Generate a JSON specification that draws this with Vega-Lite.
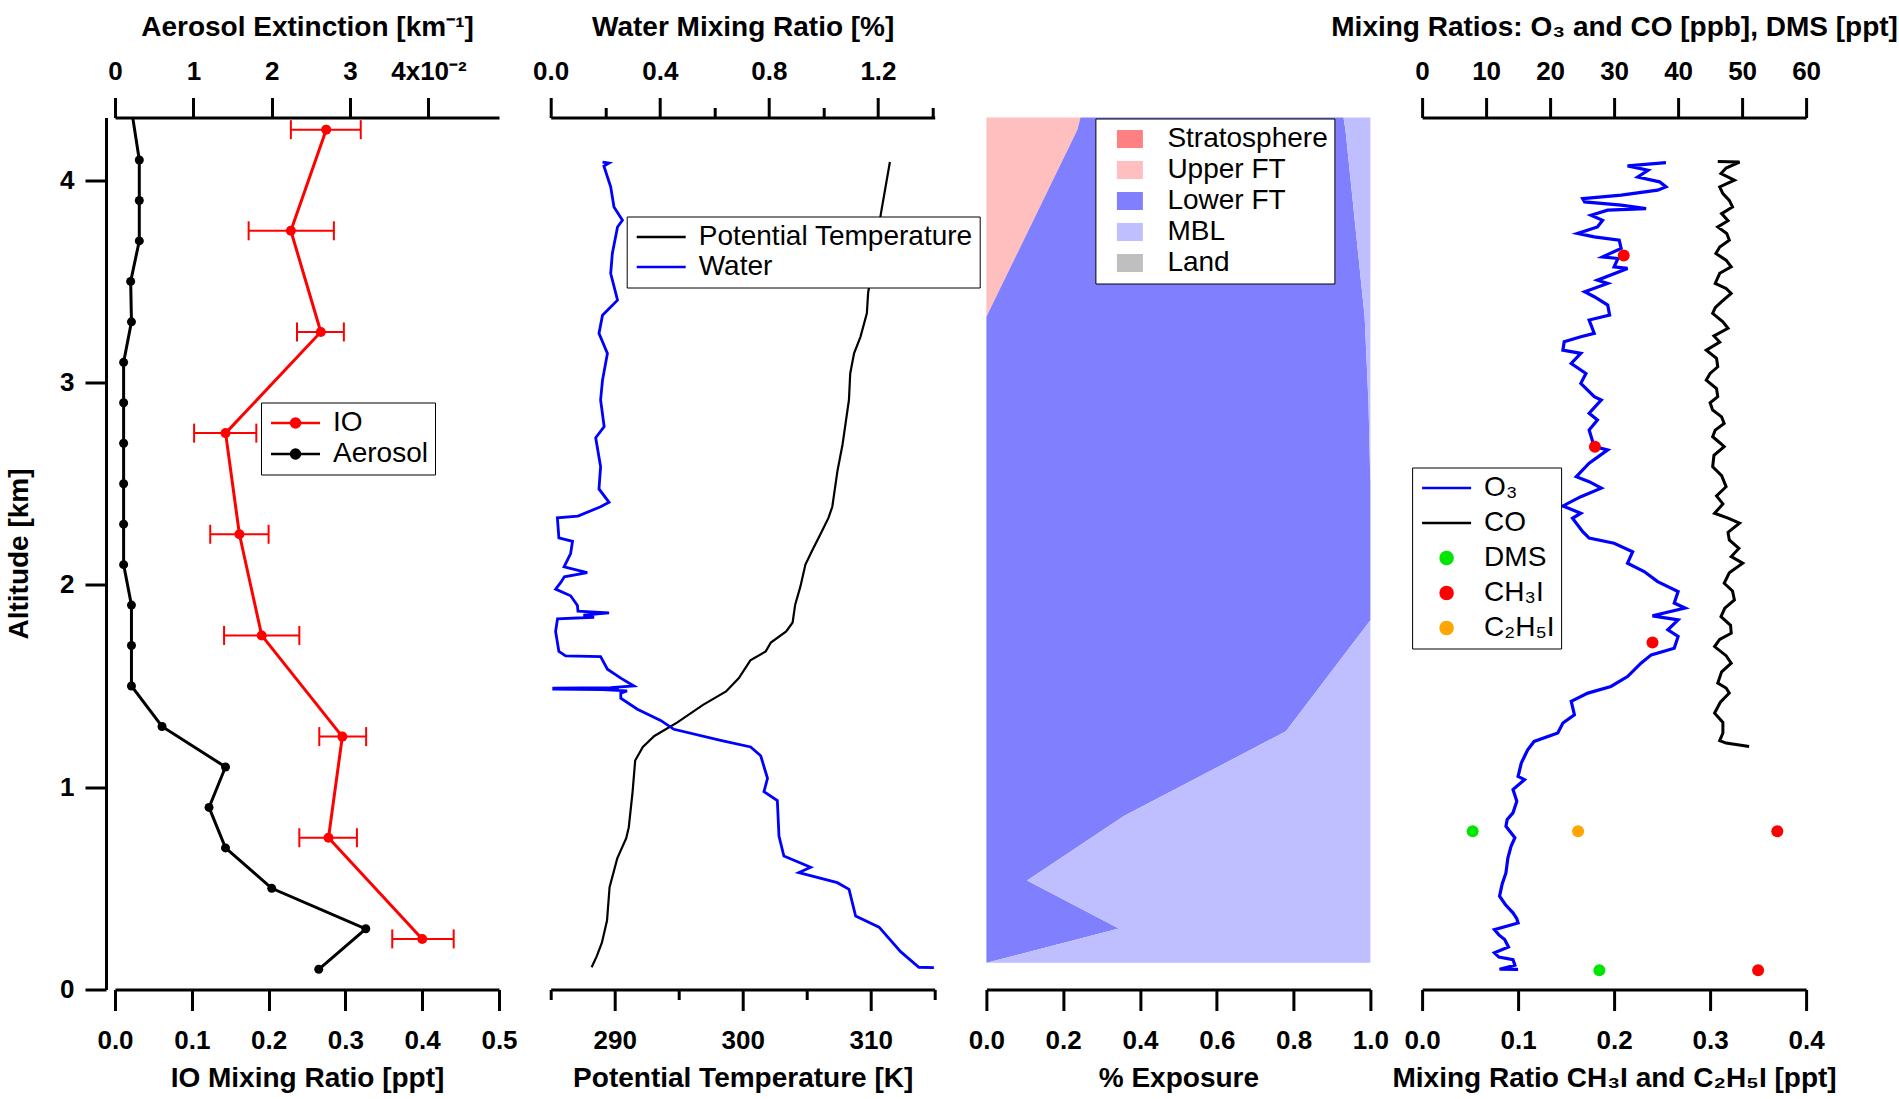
{
"$schema": "https://vega.github.io/schema/vega-lite/v6.json",
"background": "white",
"padding": {"left": 5, "top": 13.5, "right": 5, "bottom": 5},
"bounds": "flush",
"spacing": 51.7,
"resolve": {"scale": {"color": "independent"}, "legend": {"color": "independent"}},
"datasets": {
"aer": [{"a":0.1,"v":0.026},{"a":0.3,"v":0.032},{"a":0.5,"v":0.02},{"a":0.7,"v":0.0141},{"a":0.9,"v":0.012},{"a":1.1,"v":0.0141},{"a":1.3,"v":0.006},{"a":1.5,"v":0.0021},{"a":1.7,"v":0.0021},{"a":1.9,"v":0.0021},{"a":2.1,"v":0.0011},{"a":2.3,"v":0.0011},{"a":2.5,"v":0.0011},{"a":2.7,"v":0.0011},{"a":2.9,"v":0.0011},{"a":3.1,"v":0.0011},{"a":3.3,"v":0.0021},{"a":3.5,"v":0.002},{"a":3.7,"v":0.0031},{"a":3.9,"v":0.0031},{"a":4.1,"v":0.0031},{"a":4.5,"v":0.0015}],
"io": [{"a":0.25,"v":0.4,"lo":0.361,"hi":0.441},{"a":0.75,"v":0.278,"lo":0.24,"hi":0.315},{"a":1.25,"v":0.296,"lo":0.266,"hi":0.327},{"a":1.75,"v":0.191,"lo":0.142,"hi":0.24},{"a":2.25,"v":0.162,"lo":0.124,"hi":0.2},{"a":2.75,"v":0.144,"lo":0.103,"hi":0.184},{"a":3.25,"v":0.268,"lo":0.237,"hi":0.298},{"a":3.75,"v":0.229,"lo":0.174,"hi":0.285},{"a":4.25,"v":0.275,"lo":0.229,"hi":0.32}],
"theta": [{"a":0.11,"v":288.2},{"a":0.165,"v":288.6},{"a":0.231,"v":289.0},{"a":0.341,"v":289.4},{"a":0.506,"v":289.6},{"a":0.648,"v":290.2},{"a":0.748,"v":290.9},{"a":0.802,"v":291.1},{"a":0.978,"v":291.4},{"a":1.132,"v":291.6},{"a":1.199,"v":292.2},{"a":1.253,"v":293.1},{"a":1.32,"v":294.9},{"a":1.407,"v":296.9},{"a":1.473,"v":298.7},{"a":1.539,"v":299.7},{"a":1.627,"v":300.6},{"a":1.671,"v":301.8},{"a":1.715,"v":302.2},{"a":1.77,"v":303.4},{"a":1.814,"v":303.9},{"a":1.902,"v":304.1},{"a":1.99,"v":304.5},{"a":2.1,"v":304.9},{"a":2.166,"v":305.4},{"a":2.254,"v":306.1},{"a":2.331,"v":306.7},{"a":2.386,"v":307.0},{"a":2.562,"v":307.4},{"a":2.694,"v":307.8},{"a":2.914,"v":308.3},{"a":3.045,"v":308.4},{"a":3.144,"v":308.7},{"a":3.226,"v":309.2},{"a":3.342,"v":309.7},{"a":3.444,"v":309.8},{"a":3.836,"v":310.8},{"a":4.09,"v":311.5}],
"water": [{"a":0.108,"v":1.405},{"a":0.11,"v":1.35},{"a":0.187,"v":1.283},{"a":0.308,"v":1.204},{"a":0.363,"v":1.118},{"a":0.495,"v":1.094},{"a":0.528,"v":1.051},{"a":0.578,"v":0.91},{"a":0.604,"v":0.953},{"a":0.66,"v":0.855},{"a":0.758,"v":0.837},{"a":0.934,"v":0.831},{"a":0.978,"v":0.782},{"a":1.044,"v":0.795},{"a":1.155,"v":0.77},{"a":1.199,"v":0.733},{"a":1.231,"v":0.623},{"a":1.286,"v":0.452},{"a":1.33,"v":0.403},{"a":1.385,"v":0.318},{"a":1.44,"v":0.257},{"a":1.465,"v":0.257},{"a":1.476,"v":0.28},{"a":1.482,"v":0.19},{"a":1.485,"v":0.006},{"a":1.487,"v":0.25},{"a":1.49,"v":0.006},{"a":1.492,"v":0.22},{"a":1.5,"v":0.305},{"a":1.539,"v":0.257},{"a":1.583,"v":0.208},{"a":1.645,"v":0.183},{"a":1.649,"v":0.055},{"a":1.671,"v":0.03},{"a":1.77,"v":0.018},{"a":1.832,"v":0.025},{"a":1.84,"v":0.159},{"a":1.85,"v":0.12},{"a":1.862,"v":0.214},{"a":1.87,"v":0.1},{"a":1.898,"v":0.098},{"a":1.946,"v":0.073},{"a":1.979,"v":0.018},{"a":2.012,"v":0.037},{"a":2.04,"v":0.05},{"a":2.06,"v":0.134},{"a":2.089,"v":0.049},{"a":2.155,"v":0.073},{"a":2.215,"v":0.08},{"a":2.232,"v":0.03},{"a":2.331,"v":0.0245},{"a":2.34,"v":0.1},{"a":2.386,"v":0.183},{"a":2.408,"v":0.214},{"a":2.474,"v":0.177},{"a":2.584,"v":0.183},{"a":2.727,"v":0.165},{"a":2.782,"v":0.196},{"a":2.914,"v":0.183},{"a":3.012,"v":0.19},{"a":3.144,"v":0.208},{"a":3.243,"v":0.177},{"a":3.333,"v":0.19},{"a":3.407,"v":0.245},{"a":3.539,"v":0.22},{"a":3.638,"v":0.226},{"a":3.769,"v":0.245},{"a":3.802,"v":0.263},{"a":3.868,"v":0.232},{"a":3.967,"v":0.22},{"a":4.07,"v":0.195},{"a":4.085,"v":0.214},{"a":4.09,"v":0.19}],
"expo": [
{"a":0.132,"f":0,"c":"Upper FT","o":1},{"a":0.132,"f":0,"c":"Lower FT","o":2},{"a":0.132,"f":1.0,"c":"MBL","o":3},
{"a":0.301,"f":0,"c":"Upper FT","o":1},{"a":0.301,"f":0.345,"c":"Lower FT","o":2},{"a":0.301,"f":0.655,"c":"MBL","o":3},
{"a":0.539,"f":0,"c":"Upper FT","o":1},{"a":0.539,"f":0.106,"c":"Lower FT","o":2},{"a":0.539,"f":0.894,"c":"MBL","o":3},
{"a":0.857,"f":0,"c":"Upper FT","o":1},{"a":0.857,"f":0.358,"c":"Lower FT","o":2},{"a":0.857,"f":0.642,"c":"MBL","o":3},
{"a":1.276,"f":0,"c":"Upper FT","o":1},{"a":1.276,"f":0.78,"c":"Lower FT","o":2},{"a":1.276,"f":0.22,"c":"MBL","o":3},
{"a":1.825,"f":0,"c":"Upper FT","o":1},{"a":1.825,"f":1.0,"c":"Lower FT","o":2},{"a":1.825,"f":0,"c":"MBL","o":3},
{"a":2.5,"f":0,"c":"Upper FT","o":1},{"a":2.5,"f":1.0,"c":"Lower FT","o":2},{"a":2.5,"f":0,"c":"MBL","o":3},
{"a":2.9,"f":0,"c":"Upper FT","o":1},{"a":2.9,"f":0.995,"c":"Lower FT","o":2},{"a":2.9,"f":0.005,"c":"MBL","o":3},
{"a":3.325,"f":0,"c":"Upper FT","o":1},{"a":3.325,"f":0.985,"c":"Lower FT","o":2},{"a":3.325,"f":0.015,"c":"MBL","o":3},
{"a":4.25,"f":0.237,"c":"Upper FT","o":1},{"a":4.25,"f":0.698,"c":"Lower FT","o":2},{"a":4.25,"f":0.065,"c":"MBL","o":3},
{"a":4.31,"f":0.245,"c":"Upper FT","o":1},{"a":4.31,"f":0.685,"c":"Lower FT","o":2},{"a":4.31,"f":0.07,"c":"MBL","o":3}],
"o3": [{"a":0.099,"v":15.0},{"a":0.1,"v":12.1},{"a":0.12,"v":14.5},{"a":0.148,"v":14.2},{"a":0.16,"v":12.0},{"a":0.181,"v":11.3},{"a":0.21,"v":13.5},{"a":0.247,"v":12.9},{"a":0.27,"v":12.0},{"a":0.296,"v":11.3},{"a":0.329,"v":15.0},{"a":0.35,"v":14.8},{"a":0.379,"v":14.2},{"a":0.42,"v":13.0},{"a":0.461,"v":12.1},{"a":0.52,"v":12.5},{"a":0.576,"v":13.1},{"a":0.65,"v":13.4},{"a":0.708,"v":13.9},{"a":0.75,"v":14.5},{"a":0.807,"v":13.1},{"a":0.84,"v":13.3},{"a":0.873,"v":14.2},{"a":0.93,"v":14.8},{"a":0.988,"v":14.2},{"a":1.037,"v":16.0},{"a":1.053,"v":15.0},{"a":1.119,"v":15.5},{"a":1.185,"v":16.5},{"a":1.226,"v":17.5},{"a":1.268,"v":21.2},{"a":1.317,"v":22.0},{"a":1.358,"v":23.8},{"a":1.424,"v":23.3},{"a":1.465,"v":25.9},{"a":1.498,"v":29.5},{"a":1.547,"v":32.1},{"a":1.613,"v":34.2},{"a":1.654,"v":35.8},{"a":1.687,"v":39.4},{"a":1.745,"v":40.0},{"a":1.778,"v":38.4},{"a":1.827,"v":40.0},{"a":1.847,"v":36.0},{"a":1.885,"v":41.1},{"a":1.91,"v":39.4},{"a":1.967,"v":40.0},{"a":2.016,"v":36.8},{"a":2.066,"v":34.7},{"a":2.107,"v":32.1},{"a":2.164,"v":32.9},{"a":2.206,"v":30.0},{"a":2.231,"v":26.1},{"a":2.263,"v":25.1},{"a":2.329,"v":23.5},{"a":2.354,"v":24.8},{"a":2.39,"v":22.0},{"a":2.436,"v":24.8},{"a":2.478,"v":28.0},{"a":2.51,"v":26.1},{"a":2.535,"v":24.1},{"a":2.601,"v":26.1},{"a":2.667,"v":29.0},{"a":2.683,"v":26.9},{"a":2.765,"v":26.1},{"a":2.815,"v":27.4},{"a":2.848,"v":26.1},{"a":2.914,"v":28.0},{"a":2.93,"v":26.9},{"a":2.996,"v":24.8},{"a":3.045,"v":25.6},{"a":3.094,"v":23.3},{"a":3.144,"v":24.8},{"a":3.16,"v":22.0},{"a":3.202,"v":22.2},{"a":3.226,"v":24.8},{"a":3.243,"v":26.9},{"a":3.309,"v":26.1},{"a":3.333,"v":29.3},{"a":3.383,"v":29.0},{"a":3.424,"v":26.9},{"a":3.449,"v":25.4},{"a":3.49,"v":29.0},{"a":3.506,"v":27.4},{"a":3.564,"v":32.1},{"a":3.572,"v":30.0},{"a":3.613,"v":30.6},{"a":3.621,"v":28.2},{"a":3.663,"v":31.1},{"a":3.704,"v":30.8},{"a":3.72,"v":26.9},{"a":3.737,"v":24.3},{"a":3.769,"v":27.4},{"a":3.802,"v":28.2},{"a":3.827,"v":26.4},{"a":3.852,"v":29.0},{"a":3.86,"v":35.0},{"a":3.877,"v":31.1},{"a":3.893,"v":25.4},{"a":3.909,"v":25.1},{"a":3.926,"v":31.1},{"a":3.951,"v":36.8},{"a":3.967,"v":38.1},{"a":3.992,"v":37.1},{"a":4.016,"v":33.7},{"a":4.049,"v":35.3},{"a":4.071,"v":32.1},{"a":4.087,"v":38.1}],
"co": [{"a":1.201,"v":51.1},{"a":1.218,"v":47.5},{"a":1.23,"v":46.5},{"a":1.268,"v":47.0},{"a":1.32,"v":47.0},{"a":1.366,"v":45.7},{"a":1.42,"v":46.6},{"a":1.465,"v":48.0},{"a":1.49,"v":47.5},{"a":1.515,"v":46.2},{"a":1.57,"v":46.8},{"a":1.613,"v":48.3},{"a":1.65,"v":47.5},{"a":1.695,"v":45.7},{"a":1.73,"v":46.5},{"a":1.761,"v":48.3},{"a":1.8,"v":48.2},{"a":1.843,"v":46.7},{"a":1.885,"v":47.3},{"a":1.926,"v":48.8},{"a":1.97,"v":48.5},{"a":2.008,"v":47.2},{"a":2.06,"v":48.0},{"a":2.107,"v":50.1},{"a":2.14,"v":48.3},{"a":2.18,"v":49.5},{"a":2.222,"v":48.0},{"a":2.26,"v":47.8},{"a":2.305,"v":49.6},{"a":2.33,"v":47.8},{"a":2.354,"v":45.7},{"a":2.4,"v":47.0},{"a":2.44,"v":46.0},{"a":2.485,"v":47.5},{"a":2.54,"v":46.8},{"a":2.584,"v":45.4},{"a":2.64,"v":45.6},{"a":2.683,"v":47.2},{"a":2.7,"v":46.6},{"a":2.732,"v":45.4},{"a":2.765,"v":45.8},{"a":2.798,"v":47.2},{"a":2.83,"v":46.8},{"a":2.864,"v":45.4},{"a":2.9,"v":45.0},{"a":2.93,"v":46.2},{"a":2.97,"v":46.0},{"a":3.012,"v":44.4},{"a":3.045,"v":45.0},{"a":3.078,"v":46.2},{"a":3.12,"v":46.0},{"a":3.16,"v":44.4},{"a":3.2,"v":46.5},{"a":3.23,"v":45.6},{"a":3.268,"v":47.8},{"a":3.3,"v":47.0},{"a":3.342,"v":45.4},{"a":3.37,"v":45.8},{"a":3.4,"v":46.8},{"a":3.44,"v":48.3},{"a":3.465,"v":47.5},{"a":3.49,"v":45.8},{"a":3.54,"v":46.5},{"a":3.572,"v":48.3},{"a":3.605,"v":47.5},{"a":3.638,"v":45.9},{"a":3.67,"v":46.5},{"a":3.704,"v":48.0},{"a":3.737,"v":47.6},{"a":3.769,"v":46.2},{"a":3.8,"v":47.8},{"a":3.835,"v":46.8},{"a":3.868,"v":48.5},{"a":3.9,"v":48.0},{"a":3.934,"v":47.0},{"a":3.967,"v":46.5},{"a":4.0,"v":48.8},{"a":4.033,"v":46.7},{"a":4.06,"v":47.5},{"a":4.09,"v":49.6},{"a":4.092,"v":46.2}],
"dms": [{"a":0.782,"v":7.9},{"a":0.095,"v":27.7}],
"iod": [{"a":3.628,"v":0.21,"s":"CH₃I"},{"a":2.683,"v":0.18,"s":"CH₃I"},{"a":1.715,"v":0.24,"s":"CH₃I"},{"a":0.782,"v":0.37,"s":"CH₃I"},{"a":0.095,"v":0.35,"s":"CH₃I"},{"a":0.782,"v":0.1625,"s":"C₂H₅I"}]
},
"hconcat": [
{
"width": 384, "height": 872,
"layer": [
  {"data": {"name": "aer"}, "mark": {"type": "line", "strokeWidth": 3, "clip": true},
   "encoding": {
    "x": {"field": "v", "type": "quantitative", "scale": {"domain": [0, 0.049], "nice": false},
          "axis": {"orient": "top", "values": [0, 0.01, 0.02, 0.03, 0.04], "labelExpr": "abs(datum.value-0.04)<1e-9 ? '4x10⁻²' : format(datum.value*100,'d')", "title": "Aerosol Extinction [km⁻¹]", "tickSize": 20, "labelPadding": 13, "titlePadding": 17}},
    "y": {"field": "a", "type": "quantitative", "scale": {"domain": [0, 4.31], "nice": false},
          "axis": {"orient": "left", "values": [0, 1, 2, 3, 4], "format": "d", "title": "Altitude [km]", "tickSize": 21, "offset": 9, "labelPadding": 11, "titlePadding": 26}},
    "order": {"field": "a"},
    "color": {"datum": "Aerosol", "scale": {"domain": ["IO", "Aerosol"], "range": ["#ff0000", "#000000"]},
      "legend": {"orient": "none", "legendX": 146, "legendY": 285, "title": null,
        "symbolType": "M-2.45,0H2.45M0.45,0A0.45,0.45,0,1,1,-0.45,0A0.45,0.45,0,1,1,0.45,0",
        "symbolSize": 400, "symbolStrokeWidth": 2.5, "symbolOffset": 14, "labelOffset": 23.5, "rowPadding": 3, "padding": 6.5, "symbolOpacity": 1,
        "encode": {"symbols": {"update": {"fill": {"signal": "datum.index==0 ? '#ff0000' : '#000000'"}, "stroke": {"signal": "datum.index==0 ? '#ff0000' : '#000000'"}}}}}}
   }},
  {"data": {"name": "aer"}, "mark": {"type": "point", "filled": true, "size": 81, "opacity": 1, "color": "#000000", "clip": true},
   "encoding": {"x": {"field": "v", "type": "quantitative", "scale": {"domain": [0, 0.049], "nice": false}, "axis": null},
    "y": {"field": "a", "type": "quantitative", "axis": {"orient": "left", "values": [0, 1, 2, 3, 4], "format": "d", "title": "Altitude [km]", "tickSize": 21, "offset": 9, "labelPadding": 11, "titlePadding": 26}}}},
  {"data": {"name": "io"}, "mark": {"type": "rule", "color": "#ff0000", "strokeWidth": 2},
   "encoding": {
    "x": {"field": "lo", "type": "quantitative", "scale": {"domain": [0, 0.5], "nice": false},
          "axis": {"orient": "bottom", "values": [0, 0.1, 0.2, 0.3, 0.4, 0.5], "format": ".1f", "title": "IO Mixing Ratio [ppt]", "tickSize": 21, "labelPadding": 17, "titlePadding": 11}},
    "x2": {"field": "hi"},
    "y": {"field": "a", "type": "quantitative", "axis": {"orient": "left", "values": [0, 1, 2, 3, 4], "format": "d", "title": "Altitude [km]", "tickSize": 21, "offset": 9, "labelPadding": 11, "titlePadding": 26}}}},
  {"data": {"name": "io"}, "mark": {"type": "tick", "orient": "vertical", "size": 19, "thickness": 2, "color": "#ff0000", "opacity": 1},
   "encoding": {"x": {"field": "lo", "type": "quantitative", "scale": {"domain": [0, 0.5], "nice": false}, "axis": null},
    "y": {"field": "a", "type": "quantitative", "axis": {"orient": "left", "values": [0, 1, 2, 3, 4], "format": "d", "title": "Altitude [km]", "tickSize": 21, "offset": 9, "labelPadding": 11, "titlePadding": 26}}}},
  {"data": {"name": "io"}, "mark": {"type": "tick", "orient": "vertical", "size": 19, "thickness": 2, "color": "#ff0000", "opacity": 1},
   "encoding": {"x": {"field": "hi", "type": "quantitative", "scale": {"domain": [0, 0.5], "nice": false}, "axis": null},
    "y": {"field": "a", "type": "quantitative", "axis": {"orient": "left", "values": [0, 1, 2, 3, 4], "format": "d", "title": "Altitude [km]", "tickSize": 21, "offset": 9, "labelPadding": 11, "titlePadding": 26}}}},
  {"data": {"name": "io"}, "mark": {"type": "line", "strokeWidth": 3},
   "encoding": {"x": {"field": "v", "type": "quantitative", "scale": {"domain": [0, 0.5], "nice": false}, "axis": null},
    "y": {"field": "a", "type": "quantitative", "axis": {"orient": "left", "values": [0, 1, 2, 3, 4], "format": "d", "title": "Altitude [km]", "tickSize": 21, "offset": 9, "labelPadding": 11, "titlePadding": 26}},
    "order": {"field": "a"}, "color": {"datum": "IO", "legend": null}}},
  {"data": {"name": "io"}, "mark": {"type": "point", "filled": true, "size": 100, "opacity": 1, "color": "#ff0000"},
   "encoding": {"x": {"field": "v", "type": "quantitative", "scale": {"domain": [0, 0.5], "nice": false}, "axis": null},
    "y": {"field": "a", "type": "quantitative", "axis": {"orient": "left", "values": [0, 1, 2, 3, 4], "format": "d", "title": "Altitude [km]", "tickSize": 21, "offset": 9, "labelPadding": 11, "titlePadding": 26}}}}
],
"resolve": {"scale": {"x": "independent"}}
},
{
"width": 384, "height": 872,
"layer": [
 {"data": {"name": "theta"}, "mark": {"type": "line", "strokeWidth": 2.2},
  "encoding": {
   "x": {"field": "v", "type": "quantitative", "scale": {"domain": [285, 315], "nice": false},
         "axis": {"orient": "bottom", "values": [285, 290, 295, 300, 305, 310, 315], "labelExpr": "datum.value % 10 == 0 ? format(datum.value,'d') : ''",
                  "tickSize": {"condition": {"test": "datum.value % 10 == 0", "value": 21}, "value": 10},
                  "title": "Potential Temperature [K]", "labelPadding": 17, "titlePadding": 11}},
   "y": {"field": "a", "type": "quantitative", "scale": {"domain": [0, 4.31], "nice": false}, "axis": null},
   "order": {"field": "a"},
   "color": {"datum": "Potential Temperature", "scale": {"domain": ["Potential Temperature", "Water"], "range": ["#000000", "#0000ff"]},
     "legend": {"orient": "none", "legendX": 76, "legendY": 99, "title": null,
       "symbolType": "M-2.45,0H2.45", "symbolSize": 400, "symbolStrokeWidth": 2.5, "symbolOffset": 14, "labelOffset": 23.5, "rowPadding": 2, "padding": 6.5, "symbolOpacity": 1,
       "encode": {"symbols": {"update": {"fill": {"value": "transparent"}, "stroke": {"signal": "datum.index==0 ? '#000000' : '#0000ff'"}}}}}}
  }},
 {"data": {"name": "water"}, "mark": {"type": "line", "strokeWidth": 2.8},
  "encoding": {
   "x": {"field": "v", "type": "quantitative", "scale": {"domain": [0, 1.408], "nice": false},
         "axis": {"orient": "top", "values": [0, 0.2, 0.4, 0.6, 0.8, 1.0, 1.2, 1.4], "labelExpr": "abs(datum.value/0.4-round(datum.value/0.4))<1e-6 ? format(datum.value,'.1f') : ''",
                  "tickSize": {"condition": {"test": "abs(datum.value/0.4-round(datum.value/0.4))<1e-6", "value": 20}, "value": 10},
                  "title": "Water Mixing Ratio [%]", "labelPadding": 13, "titlePadding": 17}},
   "y": {"field": "a", "type": "quantitative", "axis": null},
   "order": {"field": "a"},
   "color": {"datum": "Water", "legend": null}
  }}
],
"resolve": {"scale": {"x": "independent"}}
},
{
"width": 384, "height": 872,
"data": {"name": "expo"},
"mark": {"type": "area", "orient": "horizontal", "opacity": 1},
"encoding": {
 "x": {"field": "f", "type": "quantitative", "stack": "zero", "scale": {"domain": [0, 1], "nice": false},
       "axis": {"orient": "bottom", "values": [0, 0.2, 0.4, 0.6, 0.8, 1.0], "format": ".1f", "title": "% Exposure", "tickSize": 21, "labelPadding": 17, "titlePadding": 11}},
 "y": {"field": "a", "type": "quantitative", "scale": {"domain": [0, 4.31], "nice": false}, "axis": null},
 "order": {"field": "o"},
 "color": {"field": "c", "type": "nominal",
   "scale": {"domain": ["Stratosphere", "Upper FT", "Lower FT", "MBL", "Land"], "range": ["#ff8080", "#ffbfbf", "#8080ff", "#bfbfff", "#bfbfbf"]},
   "legend": {"orient": "none", "legendX": 109, "legendY": 1, "title": null,
     "symbolType": "M-1.3,-0.9H1.3V0.9H-1.3Z", "symbolSize": 400, "symbolStrokeWidth": 0, "symbolOffset": 14, "labelOffset": 23.5, "rowPadding": 3, "padding": 6.5, "symbolOpacity": 1}}
}
},
{
"width": 384, "height": 872,
"layer": [
  {"data": {"name": "o3"}, "mark": {"type": "line", "strokeWidth": 3.2},
   "encoding": {
    "x": {"field": "v", "type": "quantitative", "scale": {"domain": [0, 60], "nice": false},
          "axis": {"orient": "top", "values": [0, 10, 20, 30, 40, 50, 60], "format": "d", "title": "Mixing Ratios: O₃ and CO [ppb], DMS [ppt]", "tickSize": 20, "labelPadding": 13, "titlePadding": 17}},
    "y": {"field": "a", "type": "quantitative", "scale": {"domain": [0, 4.31], "nice": false}, "axis": null},
    "order": {"field": "a"},
    "color": {"datum": "O₃", "scale": {"domain": ["O₃", "CO", "DMS", "CH₃I", "C₂H₅I"], "range": ["#0000ff", "#000000", "#00e600", "#ff0000", "#ffa500"]},
      "legend": {"orient": "none", "legendX": -10, "legendY": 350, "title": null,
        "symbolType": "circle", "symbolSize": 400, "symbolStrokeWidth": 2.5, "symbolOffset": 14, "labelOffset": 23.5, "rowPadding": 7, "padding": 6.5, "symbolOpacity": 1,
        "encode": {"symbols": {"update": {
          "shape": {"signal": "datum.index < 2 ? 'M-2.45,0H2.45' : 'M0.6,0A0.6,0.6,0,1,1,-0.6,0A0.6,0.6,0,1,1,0.6,0Z'"},
          "fill": {"signal": "datum.index==2 ? '#00e600' : datum.index==3 ? '#ff0000' : datum.index==4 ? '#ffa500' : 'transparent'"},
          "stroke": {"signal": "datum.index==0 ? '#0000ff' : datum.index==1 ? '#000000' : 'transparent'"}}}}}}
   }},
  {"data": {"name": "co"}, "mark": {"type": "line", "strokeWidth": 3},
   "encoding": {"x": {"field": "v", "type": "quantitative", "scale": {"domain": [0, 60], "nice": false}, "axis": null}, "y": {"field": "a", "type": "quantitative", "axis": null}, "order": {"field": "a"}, "color": {"datum": "CO", "legend": null}}},
  {"data": {"name": "dms"}, "mark": {"type": "point", "filled": true, "size": 144, "opacity": 1},
   "encoding": {"x": {"field": "v", "type": "quantitative", "scale": {"domain": [0, 60], "nice": false}, "axis": null}, "y": {"field": "a", "type": "quantitative", "axis": null}, "color": {"datum": "DMS", "legend": null}}},
  {"data": {"name": "iod"}, "mark": {"type": "point", "filled": true, "size": 144, "opacity": 1},
   "encoding": {
    "x": {"field": "v", "type": "quantitative", "scale": {"domain": [0, 0.4], "nice": false},
          "axis": {"orient": "bottom", "values": [0, 0.1, 0.2, 0.3, 0.4], "format": ".1f", "title": "Mixing Ratio CH₃I and C₂H₅I [ppt]", "tickSize": 21, "labelPadding": 17, "titlePadding": 11}},
    "y": {"field": "a", "type": "quantitative", "axis": null},
    "color": {"field": "s", "type": "nominal", "legend": null}}}
],
"resolve": {"scale": {"x": "independent"}}
}
],
"config": {
 "view": {"stroke": null},
 "font": "Liberation Sans",
 "axis": {"domainColor": "#000000", "domainWidth": 3, "tickColor": "#000000", "tickWidth": 3, "grid": false,
   "labelFont": "Liberation Sans", "labelFontSize": 26, "labelFontWeight": "bold", "labelColor": "#000000",
   "titleFont": "Liberation Sans", "titleFontSize": 28, "titleFontWeight": "bold", "titleColor": "#000000",
   "labelFlush": false, "labelOverlap": false, "titleLimit": 1000, "labelLimit": 400},
 "legend": {"labelFont": "Liberation Sans", "labelFontSize": 28, "labelColor": "#000000", "labelLimit": 0,
   "strokeColor": "#000000", "fillColor": "#ffffff", "padding": 8}
}
}
